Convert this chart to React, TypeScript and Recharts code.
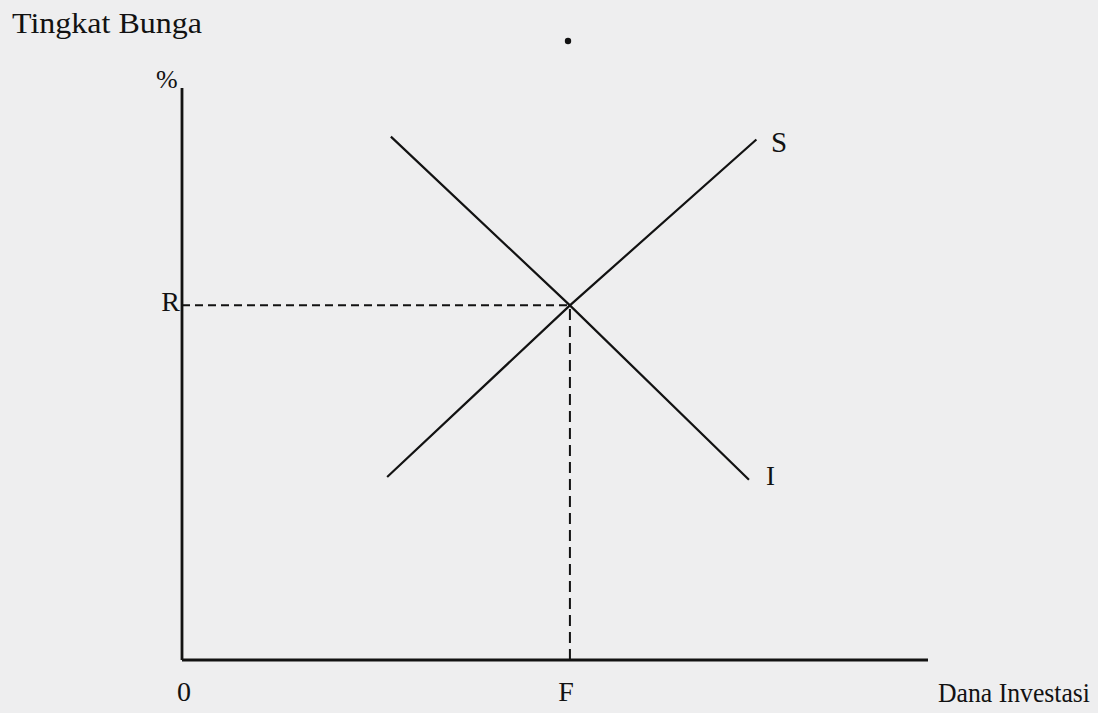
import { LineChart, Line, XAxis, YAxis, ReferenceLine } from 'recharts';

// curve end points (x = dana investasi, y = tingkat bunga)
const supplyX = [27.5, 52, 77];
const supplyY = [32, 62, 91];
const investX = [28, 52, 76];
const investY = [91.5, 62, 31.5];

const equilibriumX = 52;
const equilibriumY = 62;

const xTicks = [0, equilibriumX];
const xTickLabels = ['0', 'F'];
const yTicks = [equilibriumY];
const yTickLabels = ['R'];

const seriesNames = ['S', 'I'];

const supplyData = supplyX.map((x, i) => ({ x, y: supplyY[i] }));
const investData = investX.map((x, i) => ({ x, y: investY[i] }));

const font = '"Liberation Serif", "Times New Roman", serif';
const ink = '#121212';

const XTick = (props: any) => {
  const { x, y, payload } = props;
  const idx = xTicks.indexOf(payload.value);
  return (
    <text x={x + (idx === 0 ? 2 : -4)} y={y + 41} textAnchor="middle" fontFamily={font} fontSize={28} fill={ink}>
      {xTickLabels[idx]}
    </text>
  );
};

const YTick = (props: any) => {
  const { x, y, payload } = props;
  const idx = yTicks.indexOf(payload.value);
  return (
    <text x={x - 2} y={y + 6} textAnchor="end" fontFamily={font} fontSize={28} fill={ink}>
      {yTickLabels[idx]}
    </text>
  );
};

export default function App() {
  return (
    <div style={{ position: 'absolute', left: 0, top: 0, width: 1098, height: 713, background: '#eeeeef', overflow: 'hidden' }}>
      <LineChart width={1098} height={713} margin={{ top: 88, right: 170, bottom: 13, left: 122 }}>
        <XAxis
          type="number"
          dataKey="x"
          domain={[0, 100]}
          ticks={xTicks}
          tick={<XTick />}
          tickLine={false}
          tickSize={0}
          tickMargin={0}
          height={40}
          axisLine={{ stroke: ink, strokeWidth: 2.8 }}
          allowDataOverflow
        />
        <YAxis
          type="number"
          dataKey="y"
          domain={[0, 100]}
          ticks={yTicks}
          tick={<YTick />}
          tickLine={false}
          tickSize={0}
          tickMargin={0}
          width={60}
          axisLine={{ stroke: ink, strokeWidth: 2.8 }}
          allowDataOverflow
        />
        <ReferenceLine
          segment={[{ x: 0, y: equilibriumY }, { x: equilibriumX, y: equilibriumY }]}
          stroke={ink}
          strokeWidth={2}
          strokeDasharray="8 5"
        />
        <ReferenceLine
          segment={[{ x: equilibriumX, y: 0 }, { x: equilibriumX, y: equilibriumY }]}
          stroke={ink}
          strokeWidth={2}
          strokeDasharray="11 6"
        />
        <Line data={supplyData} dataKey="y" name={seriesNames[0]} type="linear" stroke={ink} strokeWidth={2.2} dot={false} isAnimationActive={false} />
        <Line data={investData} dataKey="y" name={seriesNames[1]} type="linear" stroke={ink} strokeWidth={2.2} dot={false} isAnimationActive={false} />
      </LineChart>
      <svg width={1098} height={713} style={{ position: 'absolute', left: 0, top: 0, pointerEvents: 'none' }}>
        <text x={12} y={33} fontFamily={font} fontSize={30} fill={ink} textLength={190} lengthAdjust="spacingAndGlyphs">
          Tingkat Bunga
        </text>
        <text x={156} y={88} fontFamily={font} fontSize={26} fill={ink}>%</text>
        <text x={771} y={152} fontFamily={font} fontSize={29} fill={ink}>{seriesNames[0]}</text>
        <text x={766} y={485} fontFamily={font} fontSize={27} fill={ink}>{seriesNames[1]}</text>
        <text x={938} y={702} fontFamily={font} fontSize={27} fill={ink} textLength={152} lengthAdjust="spacingAndGlyphs">
          Dana Investasi
        </text>
        <circle cx={568} cy={41} r={3.2} fill={ink} />
      </svg>
    </div>
  );
}
